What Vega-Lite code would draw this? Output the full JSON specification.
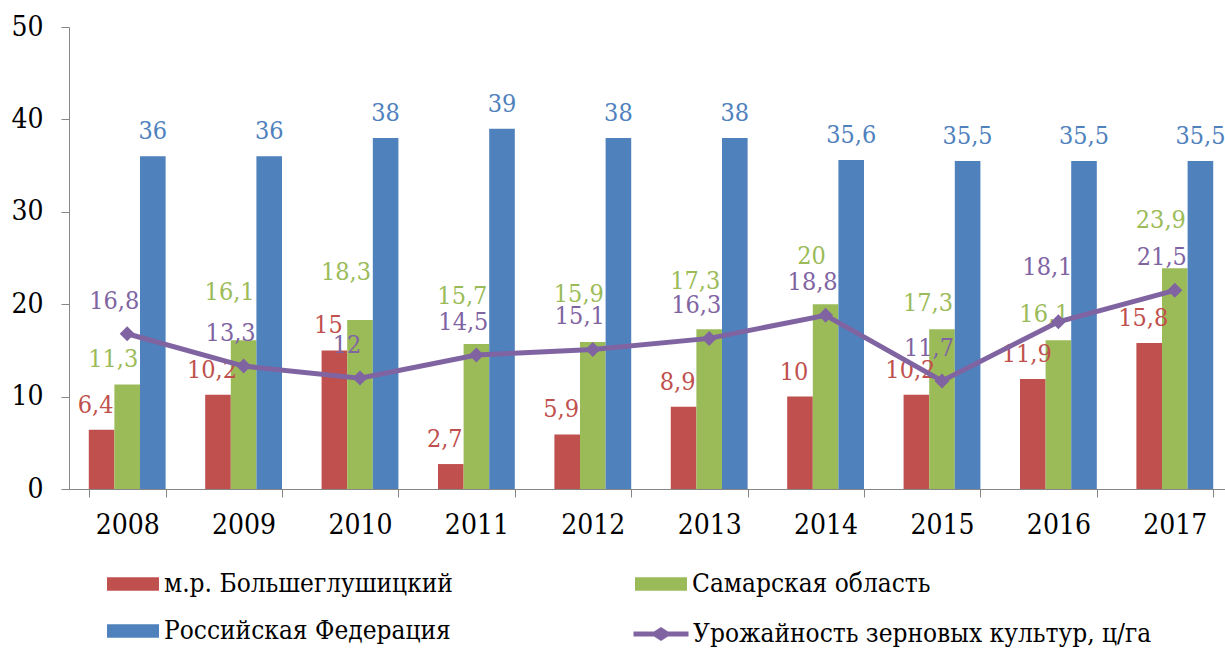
{
  "$schema": "https://vega.github.io/schema/vega-lite/v6.json",
  "width": 1156,
  "height": 462,
  "autosize": {"type": "none"},
  "padding": {"left": 69, "top": 27, "right": 0, "bottom": 161},
  "background": "white",
  "config": {
    "view": {"stroke": null},
    "font": "DejaVu Serif Condensed",
    "locale": {"number": {"decimal": ",", "thousands": " ", "grouping": [3], "currency": ["", ""]}}
  },
  "datasets": {
    "bars": [
      {"year": "2008", "series": "м.р. Большеглушицкий", "value": 6.4},
      {"year": "2008", "series": "Самарская область", "value": 11.3},
      {"year": "2008", "series": "Российская Федерация", "value": 36},
      {"year": "2009", "series": "м.р. Большеглушицкий", "value": 10.2},
      {"year": "2009", "series": "Самарская область", "value": 16.1},
      {"year": "2009", "series": "Российская Федерация", "value": 36},
      {"year": "2010", "series": "м.р. Большеглушицкий", "value": 15},
      {"year": "2010", "series": "Самарская область", "value": 18.3},
      {"year": "2010", "series": "Российская Федерация", "value": 38},
      {"year": "2011", "series": "м.р. Большеглушицкий", "value": 2.7},
      {"year": "2011", "series": "Самарская область", "value": 15.7},
      {"year": "2011", "series": "Российская Федерация", "value": 39},
      {"year": "2012", "series": "м.р. Большеглушицкий", "value": 5.9},
      {"year": "2012", "series": "Самарская область", "value": 15.9},
      {"year": "2012", "series": "Российская Федерация", "value": 38},
      {"year": "2013", "series": "м.р. Большеглушицкий", "value": 8.9},
      {"year": "2013", "series": "Самарская область", "value": 17.3},
      {"year": "2013", "series": "Российская Федерация", "value": 38},
      {"year": "2014", "series": "м.р. Большеглушицкий", "value": 10},
      {"year": "2014", "series": "Самарская область", "value": 20},
      {"year": "2014", "series": "Российская Федерация", "value": 35.6},
      {"year": "2015", "series": "м.р. Большеглушицкий", "value": 10.2},
      {"year": "2015", "series": "Самарская область", "value": 17.3},
      {"year": "2015", "series": "Российская Федерация", "value": 35.5},
      {"year": "2016", "series": "м.р. Большеглушицкий", "value": 11.9},
      {"year": "2016", "series": "Самарская область", "value": 16.1},
      {"year": "2016", "series": "Российская Федерация", "value": 35.5},
      {"year": "2017", "series": "м.р. Большеглушицкий", "value": 15.8},
      {"year": "2017", "series": "Самарская область", "value": 23.9},
      {"year": "2017", "series": "Российская Федерация", "value": 35.5}
    ],
    "line": [
      {"year": "2008", "series": "Урожайность зерновых культур, ц/га", "value": 16.8},
      {"year": "2009", "series": "Урожайность зерновых культур, ц/га", "value": 13.3},
      {"year": "2010", "series": "Урожайность зерновых культур, ц/га", "value": 12},
      {"year": "2011", "series": "Урожайность зерновых культур, ц/га", "value": 14.5},
      {"year": "2012", "series": "Урожайность зерновых культур, ц/га", "value": 15.1},
      {"year": "2013", "series": "Урожайность зерновых культур, ц/га", "value": 16.3},
      {"year": "2014", "series": "Урожайность зерновых культур, ц/га", "value": 18.8},
      {"year": "2015", "series": "Урожайность зерновых культур, ц/га", "value": 11.7},
      {"year": "2016", "series": "Урожайность зерновых культур, ц/га", "value": 18.1},
      {"year": "2017", "series": "Урожайность зерновых культур, ц/га", "value": 21.5}
    ]
  },
  "encoding": {
    "x": {
      "field": "year",
      "type": "ordinal",
      "scale": {"range": [0, 1164], "paddingInner": 0.34, "paddingOuter": 0.17},
      "axis": {
        "title": null,
        "labelAngle": 0,
        "labelFontSize": 28,
        "labelFont": "DejaVu Serif Condensed",
        "labelColor": "#000000",
        "labelPadding": 14,
        "tickBand": "extent",
        "tickSize": 8,
        "tickColor": "#868686",
        "domainColor": "#868686",
        "tickWidth": 1,
        "domainWidth": 1
      }
    },
    "y": {
      "field": "value",
      "type": "quantitative",
      "scale": {"domain": [0, 50], "nice": false},
      "axis": {
        "title": null,
        "values": [0, 10, 20, 30, 40, 50],
        "grid": false,
        "labelFontSize": 28,
        "labelFont": "DejaVu Serif Condensed",
        "labelColor": "#000000",
        "labelPadding": 18,
        "tickSize": 8,
        "tickColor": "#868686",
        "domainColor": "#868686"
      }
    }
  },
  "layer": [
    {
      "data": {"name": "bars"},
      "mark": {"type": "bar"},
      "encoding": {
        "xOffset": {"field": "series", "type": "nominal", "scale": {"domain": ["м.р. Большеглушицкий", "Самарская область", "Российская Федерация"], "paddingInner": 0, "paddingOuter": 0}},
        "fill": {
          "field": "series",
          "type": "nominal",
          "scale": {"domain": ["м.р. Большеглушицкий", "Российская Федерация", "Самарская область"], "range": ["#C0504D", "#4F81BD", "#9BBB59"]},
          "legend": {
            "orient": "none",
            "legendX": 40,
            "legendY": 533,
            "title": null,
            "columns": 2,
            "columnPadding": 182,
            "rowPadding": 10,
            "padding": 0,
            "symbolType": "M-1.083,-0.277H1.083V0.277H-1.083Z",
            "symbolSize": 2304,
            "symbolStrokeWidth": 0,
            "labelFontSize": 26,
            "labelFont": "DejaVu Serif Condensed",
            "labelColor": "#000000",
            "labelOffset": 7,
            "labelLimit": 600
          }
        }
      }
    },
    {
      "data": {"name": "bars"},
      "transform": [{"filter": "datum.series === 'м.р. Большеглушицкий'"}],
      "mark": {"type": "text", "fontSize": 25, "font": "DejaVu Serif Condensed", "color": "#C0504D", "baseline": "alphabetic", "dy": -17, "dx": -6},
      "encoding": {
        "xOffset": {"field": "series", "type": "nominal", "scale": {"domain": ["м.р. Большеглушицкий", "Самарская область", "Российская Федерация"]}},
        "text": {"field": "value", "type": "quantitative", "format": ".3~g"}
      }
    },
    {
      "data": {"name": "bars"},
      "transform": [{"filter": "datum.series === 'Самарская область' && datum.year !== '2008' && datum.year !== '2015' && datum.year !== '2016'"}],
      "mark": {"type": "text", "fontSize": 25, "font": "DejaVu Serif Condensed", "color": "#9BBB59", "baseline": "alphabetic", "dy": -40, "dx": -14},
      "encoding": {
        "xOffset": {"field": "series", "type": "nominal", "scale": {"domain": ["м.р. Большеглушицкий", "Самарская область", "Российская Федерация"]}},
        "text": {"field": "value", "type": "quantitative", "format": ".3~g"}
      }
    },
    {
      "data": {"name": "bars"},
      "transform": [{"filter": "datum.series === 'Самарская область' && (datum.year === '2008' || datum.year === '2015' || datum.year === '2016')"}],
      "mark": {"type": "text", "fontSize": 25, "font": "DejaVu Serif Condensed", "color": "#9BBB59", "baseline": "alphabetic", "dy": -18, "dx": -14},
      "encoding": {
        "xOffset": {"field": "series", "type": "nominal", "scale": {"domain": ["м.р. Большеглушицкий", "Самарская область", "Российская Федерация"]}},
        "text": {"field": "value", "type": "quantitative", "format": ".3~g"}
      }
    },
    {
      "data": {"name": "bars"},
      "transform": [{"filter": "datum.series === 'Российская Федерация'"}],
      "mark": {"type": "text", "fontSize": 25, "font": "DejaVu Serif Condensed", "color": "#4F81BD", "baseline": "alphabetic", "dy": -17},
      "encoding": {
        "xOffset": {"field": "series", "type": "nominal", "scale": {"domain": ["м.р. Большеглушицкий", "Самарская область", "Российская Федерация"]}},
        "text": {"field": "value", "type": "quantitative", "format": ".3~g"}
      }
    },
    {
      "data": {"name": "line"},
      "mark": {"type": "line", "strokeWidth": 5},
      "encoding": {
        "stroke": {
          "field": "series",
          "type": "nominal",
          "scale": {"range": ["#8064A2"]},
          "legend": {
            "orient": "none",
            "legendX": 568,
            "legendY": 583,
            "title": null,
            "padding": 0,
            "symbolType": "M-1.146,-0.1H-0.29L0,-0.29L0.29,-0.1H1.146V0.1H0.29L0,0.29L-0.29,0.1H-1.146Z",
            "symbolSize": 2304,
            "labelFontSize": 26,
            "labelFont": "DejaVu Serif Condensed",
            "labelColor": "#000000",
            "labelOffset": 8,
            "labelLimit": 600,
            "encode": {"symbols": {"update": {"fill": {"value": "#8064A2"}, "stroke": {"value": "#8064A2"}, "strokeWidth": {"value": 0}, "opacity": {"value": 1}}}}
          }
        }
      }
    },
    {
      "data": {"name": "line"},
      "mark": {"type": "point", "shape": "diamond", "filled": true, "size": 225, "color": "#8064A2", "opacity": 1}
    },
    {
      "data": {"name": "line"},
      "transform": [{"filter": "datum.year !== '2016'"}],
      "mark": {"type": "text", "fontSize": 25, "font": "DejaVu Serif Condensed", "color": "#8064A2", "baseline": "alphabetic", "dy": -25, "dx": -13},
      "encoding": {
        "text": {"field": "value", "type": "quantitative", "format": ".3~g"}
      }
    },
    {
      "data": {"name": "line"},
      "transform": [{"filter": "datum.year === '2016'"}],
      "mark": {"type": "text", "fontSize": 25, "font": "DejaVu Serif Condensed", "color": "#8064A2", "baseline": "alphabetic", "dy": -47, "dx": -11},
      "encoding": {
        "text": {"field": "value", "type": "quantitative", "format": ".3~g"}
      }
    }
  ]
}
